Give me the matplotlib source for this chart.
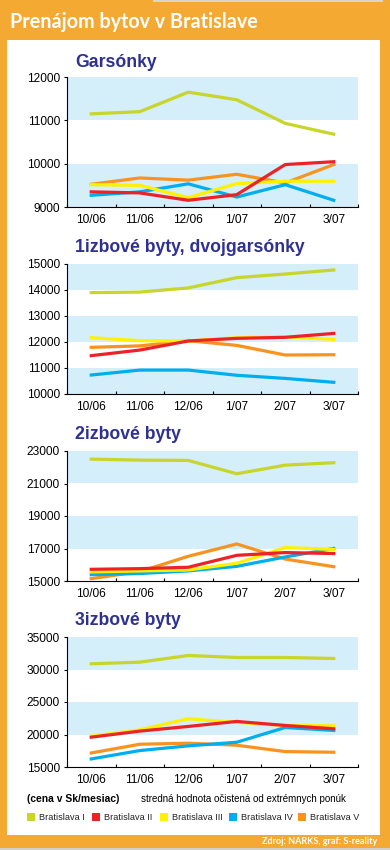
import matplotlib.pyplot as plt
from matplotlib.patches import Rectangle

W, H = 390, 850

months = ["10/06", "11/06", "12/06", "1/07", "2/07", "3/07"]
districts = ["Bratislava I", "Bratislava II", "Bratislava III", "Bratislava IV", "Bratislava V"]
colors = ["#C8D52A", "#EC2227", "#FFF100", "#00AEEF", "#F7931E"]

# rows: Bratislava I .. V
garsonky = [
    [11150, 11200, 11650, 11475, 10930, 10680],
    [9350, 9325, 9155, 9285, 9980, 10045],
    [9515, 9500, 9215, 9540, 9595, 9595],
    [9270, 9350, 9535, 9230, 9515, 9155],
    [9525, 9670, 9620, 9755, 9555, 9980],
]
izbove1 = [
    [13900, 13920, 14080, 14475, 14615, 14770],
    [11475, 11690, 12040, 12140, 12180, 12330],
    [12165, 12050, 12040, 12165, 12200, 12100],
    [10730, 10920, 10920, 10720, 10600, 10450],
    [11795, 11850, 12050, 11870, 11500, 11510],
]
izbove2 = [
    [22500, 22440, 22420, 21600, 22130, 22280],
    [15720, 15760, 15845, 16580, 16750, 16690],
    [15560, 15620, 15680, 16090, 17060, 16940],
    [15390, 15460, 15620, 15900, 16480, 17000],
    [15145, 15580, 16520, 17280, 16350, 15880],
]
izbove3 = [
    [30880, 31130, 32160, 31850, 31850, 31700],
    [19590, 20520, 21240, 22010, 21390, 20880],
    [19740, 20720, 22420, 21860, 21390, 21340],
    [16240, 17530, 18250, 18810, 21080, 20620],
    [17160, 18500, 18660, 18350, 17370, 17270],
]

ORANGE = "#F4A933"
BAND = "#D4EEFA"
NAVY = "#2E3192"
FONT = "Liberation Sans"


def fx(px):
    return px / W


def fy(py):
    return 1 - py / H


def panel(fig, top, title, title_base, series, ymin, ymax, step):
    ax = fig.add_axes([fx(67), fy(top + 130), 291 / W, 130 / H])
    ticks = list(range(ymin, ymax + 1, step))
    # alternate light blue bands, starting from the top interval
    for k in range(len(ticks) - 1, 0, -2):
        ax.axhspan(ticks[k - 1], ticks[k], color=BAND, lw=0, zorder=0)
    x = list(range(len(months)))
    for i in [0, 4, 3, 2, 1]:
        ax.plot(x, series[i], color=colors[i], lw=2.3, zorder=3)
    ax.set_xlim(-0.5, len(months) - 0.5)
    ax.set_ylim(ymin, ymax)
    ax.set_yticks(ticks)
    ax.set_yticklabels([str(t) for t in ticks], fontsize=8.6, family=FONT)
    ax.set_xticks(x)
    ax.set_xticklabels(months, fontsize=8.6, family=FONT)
    ax.set_xticks([v + 0.5 for v in range(-1, len(months))], minor=True)
    ax.tick_params(axis="x", which="major", length=0, pad=5)
    ax.tick_params(axis="x", which="minor", direction="in", length=2.5, width=0.8)
    ax.tick_params(axis="y", direction="out", length=2, width=0.8, pad=3)
    ax.set_facecolor("none")
    for s in ["top", "right"]:
        ax.spines[s].set_visible(False)
    for s in ["left", "bottom"]:
        ax.spines[s].set_linewidth(0.8)
    fig.text(fx(75), fy(title_base), title, color=NAVY, fontsize=12.7,
             fontweight="bold", family=FONT, va="baseline")
    return ax


fig = plt.figure(figsize=(W / 100, H / 100), dpi=100)
fig.patch.set_facecolor(ORANGE)

# white card + thin grey strips at the edges
fig.patches.append(Rectangle((fx(7), fy(835)), 373 / W, 795 / H, transform=fig.transFigure,
                             facecolor="white", edgecolor="none", zorder=-10))
fig.patches.append(Rectangle((0, 0), 1, 2 / H, transform=fig.transFigure,
                             facecolor="#CFCFCF", edgecolor="none", zorder=-10))
fig.patches.append(Rectangle((fx(153), fy(2)), 230 / W, 2 / H, transform=fig.transFigure,
                             facecolor="#D9D4CC", edgecolor="none", zorder=-10))

fig.text(fx(10), fy(28), "Prenájom bytov v Bratislave", color="white", fontsize=14.2,
         fontweight="bold", family="Lato", va="baseline")

panel(fig, 77, "Garsónky", 67, garsonky, 9000, 12000, 1000)
panel(fig, 264, "1izbové byty, dvojgarsónky", 252, izbove1, 10000, 15000, 1000)
panel(fig, 451, "2izbové byty", 439, izbove2, 15000, 23000, 2000)
panel(fig, 637, "3izbové byty", 625, izbove3, 15000, 35000, 5000)

fig.text(fx(27), fy(799), "(cena v Sk/mesiac)", fontsize=7.4, fontweight="bold",
         family=FONT, va="center")
fig.text(fx(141), fy(799), "stredná hodnota očistená od extrémnych ponúk", fontsize=7,
         family=FONT, va="center")

leg_x = [27, 92, 160, 229, 298]
for i, name in enumerate(districts):
    fig.patches.append(Rectangle((fx(leg_x[i]), fy(821)), 8 / W, 8 / H, transform=fig.transFigure,
                                 facecolor=colors[i], edgecolor="none", zorder=1))
    fig.text(fx(leg_x[i] + 12), fy(817), name, fontsize=6.6, family=FONT, va="center",
             color="#222222")

fig.text(fx(377), fy(842), "Zdroj: NARKS, graf: S-reality", color="white", fontsize=6.5,
         fontweight="bold", family="Lato", ha="right", va="center")

fig.savefig("out.png", dpi=100, facecolor=fig.get_facecolor())
plt.close()
